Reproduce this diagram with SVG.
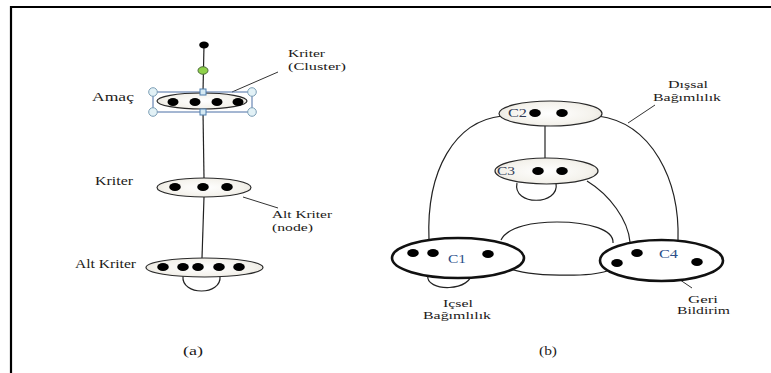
<svg xmlns="http://www.w3.org/2000/svg" width="771" height="373" viewBox="0 0 771 373">
  <style>
    .lbl { font-family: "Liberation Serif", "Times New Roman", serif; font-size: 12.5px; fill: #1c1a18; }
    .sm { font-size: 11px; }
    .cl { font-family: "Liberation Serif", "Times New Roman", serif; font-size: 13px; }
    .edge { fill: none; stroke: #222; stroke-width: 1.2; }
    .lead { fill: none; stroke: #333; stroke-width: 1; }
    .clu { fill: url(#cluFill); stroke: #2a2a2a; stroke-width: 1.2; }
    .big { fill: #fff; stroke: #111; stroke-width: 2.6; }
    .dot { fill: #000; filter: url(#soft); }
    .hc { fill: #e2f1f6; stroke: #7d9fb6; stroke-width: 1; }
    .hs { fill: #d4e8f2; stroke: #4f7fae; stroke-width: 1; }
  </style>
  <defs>
    <radialGradient id="cluFill" cx="50%" cy="50%" r="60%">
      <stop offset="0" stop-color="#ffffff"/>
      <stop offset="0.7" stop-color="#f4f2ec"/>
      <stop offset="1" stop-color="#e2dfd8"/>
    </radialGradient>
    <filter id="soft" x="-50%" y="-50%" width="200%" height="200%">
      <feGaussianBlur stdDeviation="0.7"/>
    </filter>
  </defs>

  <rect width="771" height="373" fill="#fff"/>

  <!-- frame -->
  <g id="frame" fill="none" stroke="#000" stroke-width="2.2">
    <path d="M11,373 L11,7 L771,7"/>
  </g>

  <!-- connectors -->
  <g id="connectors">
    <!-- panel (a) -->
    <path class="edge" d="M204,45 L203,92"/>
    <path class="edge" d="M203,112 L204,178"/>
    <path class="edge" d="M204,197 L202,258"/>
    <path class="edge" d="M183,276 C181,296 222,296 220,276"/>
    <path class="lead" d="M278,72 L232,92"/>
    <path class="lead" d="M243,197 L278,208"/>
    <!-- panel (b) -->
    <path class="edge" d="M545,126 L545,158"/>
    <path class="edge" d="M517,183 C512,206 560,206 556,183"/>
    <path class="edge" d="M502,116 C455,121 426,170 429,240"/>
    <path class="edge" d="M598,116 C652,123 680,180 678,241"/>
    <path class="edge" d="M587,181 C610,195 628,220 630,242"/>
    <path class="edge" d="M501,240 C508,226 535,222 557,222 C590,222 614,230 613,243"/>
    <path class="edge" d="M508,268 C530,277 590,277 607,271 L617,263"/>
    <path class="edge" d="M428,275 C424,292 474,293 472,270"/>
    <path class="lead" d="M628,123 L655,105"/>
    <path class="lead" d="M667,271 L692,288"/>
  </g>

  <!-- panel (a) nodes -->
  <g id="top-node">
    <ellipse class="dot" cx="204" cy="45" rx="4.8" ry="3.4"/>
    <ellipse cx="203" cy="70.5" rx="5" ry="3.8" fill="#8fd14a" stroke="#4c6b3a" stroke-width="1"/>
  </g>

  <g id="amac">
    <rect x="153" y="92" width="99" height="20" fill="none" stroke="#4a6fa5" stroke-width="1"/>
    <ellipse class="clu" cx="202" cy="101" rx="45" ry="8"/>
    <ellipse class="dot" cx="173" cy="102" rx="5.5" ry="4"/>
    <ellipse class="dot" cx="195" cy="102" rx="5.5" ry="4"/>
    <ellipse class="dot" cx="217" cy="102" rx="5.5" ry="4"/>
    <ellipse class="dot" cx="238" cy="102" rx="5.5" ry="4"/>
    <circle class="hc" cx="153" cy="92" r="4.3"/>
    <circle class="hc" cx="252" cy="92" r="4.3"/>
    <circle class="hc" cx="153" cy="112" r="4.3"/>
    <circle class="hc" cx="252" cy="112" r="4.3"/>
    <rect class="hs" x="200" y="89" width="6" height="6"/>
    <rect class="hs" x="200" y="109" width="6" height="6"/>
    <text class="lbl" x="92" y="101" textLength="42" lengthAdjust="spacingAndGlyphs">Amaç</text>
  </g>

  <g id="kriter">
    <ellipse class="clu" cx="204" cy="187.5" rx="47" ry="9.5"/>
    <ellipse class="dot" cx="175" cy="187" rx="5.8" ry="4"/>
    <ellipse class="dot" cx="203" cy="187" rx="5.8" ry="4"/>
    <ellipse class="dot" cx="227" cy="187" rx="5.8" ry="4"/>
    <text class="lbl" x="95" y="185" textLength="38" lengthAdjust="spacingAndGlyphs">Kriter</text>
  </g>

  <g id="alt-kriter">
    <ellipse class="clu" cx="204.5" cy="267.5" rx="58.5" ry="9.5"/>
    <ellipse class="dot" cx="163" cy="267" rx="5.8" ry="4"/>
    <ellipse class="dot" cx="183" cy="267" rx="5.8" ry="4"/>
    <ellipse class="dot" cx="198" cy="267" rx="5.8" ry="4"/>
    <ellipse class="dot" cx="219" cy="267" rx="5.8" ry="4"/>
    <ellipse class="dot" cx="239" cy="267" rx="5.8" ry="4"/>
    <text class="lbl" x="75" y="268" textLength="61" lengthAdjust="spacingAndGlyphs">Alt Kriter</text>
  </g>

  <g id="labels-a">
    <text class="lbl sm" x="288" y="57" textLength="37" lengthAdjust="spacingAndGlyphs">Kriter</text>
    <text class="lbl sm" x="288" y="70" textLength="58" lengthAdjust="spacingAndGlyphs">(Cluster)</text>
    <text class="lbl sm" x="272" y="218" textLength="60" lengthAdjust="spacingAndGlyphs">Alt Kriter</text>
    <text class="lbl sm" x="272" y="231" textLength="41" lengthAdjust="spacingAndGlyphs">(node)</text>
    <text class="lbl" x="183" y="355" textLength="20" lengthAdjust="spacingAndGlyphs">(a)</text>
  </g>

  <!-- panel (b) nodes -->
  <g id="c2">
    <ellipse class="clu" cx="550.5" cy="113.5" rx="51.5" ry="12.5"/>
    <ellipse class="dot" cx="535" cy="113" rx="5.8" ry="4"/>
    <ellipse class="dot" cx="562" cy="113" rx="5.8" ry="4"/>
    <text class="cl" x="508" y="117" fill="#2f3a55" textLength="19" lengthAdjust="spacingAndGlyphs">C2</text>
  </g>

  <g id="c3">
    <ellipse class="clu" cx="546.5" cy="171" rx="51.5" ry="13"/>
    <ellipse class="dot" cx="538" cy="171" rx="5.8" ry="4"/>
    <ellipse class="dot" cx="562" cy="171" rx="5.8" ry="4"/>
    <text class="cl" x="497" y="175" fill="#2f3a55" textLength="18" lengthAdjust="spacingAndGlyphs">C3</text>
  </g>

  <g id="c1">
    <ellipse class="big" cx="458" cy="258" rx="66" ry="20"/>
    <ellipse class="dot" cx="413" cy="253" rx="5.8" ry="4"/>
    <ellipse class="dot" cx="433" cy="253" rx="5.8" ry="4"/>
    <ellipse class="dot" cx="488" cy="254" rx="5.8" ry="4"/>
    <text class="cl" x="448" y="263" fill="#2c4f8a" textLength="18" lengthAdjust="spacingAndGlyphs">C1</text>
  </g>

  <g id="c4">
    <ellipse class="big" cx="661.5" cy="260.5" rx="61.5" ry="20.5"/>
    <ellipse class="dot" cx="617" cy="263" rx="5.8" ry="4"/>
    <ellipse class="dot" cx="637" cy="253" rx="5.8" ry="4"/>
    <ellipse class="dot" cx="697" cy="262" rx="5.8" ry="4"/>
    <text class="cl" x="659" y="258" fill="#2c4f8a" textLength="19" lengthAdjust="spacingAndGlyphs">C4</text>
  </g>

  <g id="labels-b">
    <text class="lbl sm" x="668" y="88" textLength="40" lengthAdjust="spacingAndGlyphs">Dışsal</text>
    <text class="lbl sm" x="653" y="101" textLength="68" lengthAdjust="spacingAndGlyphs">Bağımlılık</text>
    <text class="lbl sm" x="443" y="307" textLength="30" lengthAdjust="spacingAndGlyphs">Içsel</text>
    <text class="lbl sm" x="423" y="319" textLength="68" lengthAdjust="spacingAndGlyphs">Bağımlılık</text>
    <text class="lbl sm" x="688" y="303" textLength="30" lengthAdjust="spacingAndGlyphs">Geri</text>
    <text class="lbl sm" x="677" y="314" textLength="53" lengthAdjust="spacingAndGlyphs">Bildirim</text>
    <text class="lbl" x="539" y="355" textLength="18" lengthAdjust="spacingAndGlyphs">(b)</text>
  </g>
</svg>
